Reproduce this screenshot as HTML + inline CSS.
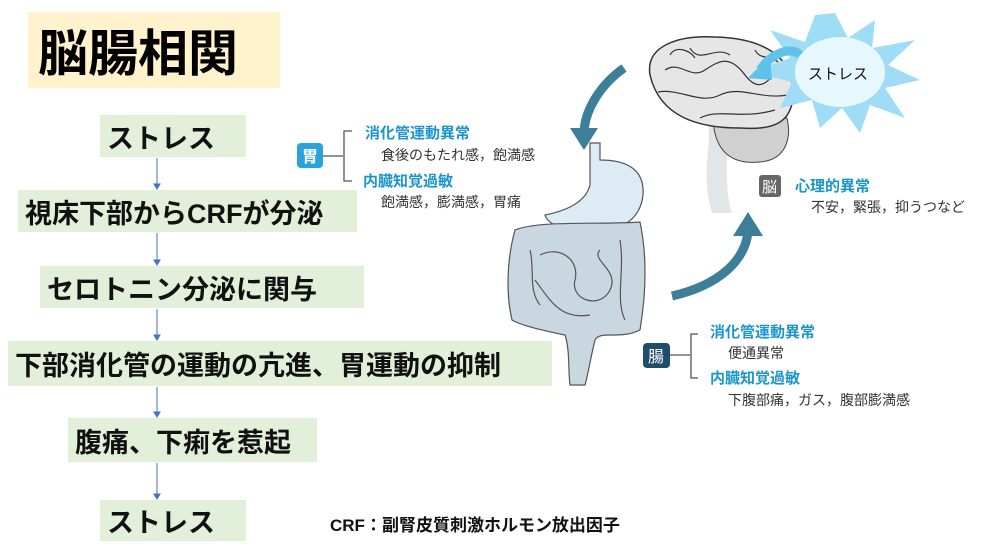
<!DOCTYPE html>
<html><head><meta charset="utf-8"><style>
body{margin:0;width:1000px;height:556px;background:#fff;position:relative;overflow:hidden;font-family:"Liberation Sans","Noto Sans CJK JP",sans-serif}
.b{position:absolute;background:#e2f0d9;font-weight:bold;font-size:27px;color:#111;display:flex;align-items:center;justify-content:flex-start;white-space:nowrap;box-sizing:border-box;padding-left:7px;letter-spacing:0px}
.t{position:absolute;left:28px;top:12px;width:252px;height:76px;background:#fff2cc;font-weight:bold;font-size:50px;display:flex;align-items:center;justify-content:flex-start;padding-left:10px;box-sizing:border-box}
svg{position:absolute;left:0;top:0}
</style></head><body>
<div class="t">脳腸相関</div>
<div class="b" style="left:100px;top:115px;width:146px;height:42px">ストレス</div>
<div class="b" style="left:18px;top:190px;width:339px;height:42px">視床下部からCRFが分泌</div>
<div class="b" style="left:40px;top:266px;width:324px;height:42px">セロトニン分泌に関与</div>
<div class="b" style="left:8px;top:341px;width:544px;height:45px">下部消化管の運動の亢進、胃運動の抑制</div>
<div class="b" style="left:68px;top:418px;width:249px;height:44px">腹痛、下痢を惹起</div>
<div class="b" style="left:100px;top:500px;width:146px;height:41px">ストレス</div>
<svg width="1000" height="556" viewBox="0 0 1000 556" font-family="Liberation Sans,Noto Sans CJK JP,sans-serif">
<g stroke="#4472c4" stroke-width="1" fill="#4472c4">
<line x1="157" y1="158" x2="157" y2="185"/><path d="M154 184 L160 184 L157 189Z"/>
<line x1="157" y1="233" x2="157" y2="261"/><path d="M154 260 L160 260 L157 265Z"/>
<line x1="157" y1="309" x2="157" y2="336"/><path d="M154 335 L160 335 L157 340Z"/>
<line x1="157" y1="387" x2="157" y2="413"/><path d="M154 412 L160 412 L157 417Z"/>
<line x1="157" y1="463" x2="157" y2="495"/><path d="M154 494 L160 494 L157 499Z"/>
</g>
<text x="330" y="531" font-size="17" font-weight="bold" fill="#111">CRF：副腎皮質刺激ホルモン放出因子</text>
<!-- stomach -->
<path d="M590 143 L600 143 L600 160 C620 160 645 165 643 195 C640 225 610 235 585 232 C565 230 548 225 545 215 C560 212 585 205 590 185Z" fill="#dcebf4" stroke="#555" stroke-width="1.2"/>
<!-- intestine -->
<path d="M515 230 C540 220 600 225 640 222 C648 260 645 300 640 330 C620 340 600 330 595 340 C590 360 588 375 585 385 L570 385 C568 370 570 350 565 335 C540 330 520 325 512 320 C505 290 508 255 515 230Z" fill="#c9d7e0" stroke="#555" stroke-width="1.2"/>
<path d="M540 255 C560 245 580 260 575 280 C570 300 600 310 610 290 C620 270 590 260 600 250" fill="none" stroke="#555" stroke-width="1.2"/>
<path d="M535 280 C550 300 560 320 590 315" fill="none" stroke="#555" stroke-width="1.2"/>
<path d="M530 250 C535 270 528 290 540 305 M620 240 C625 270 615 300 625 320" fill="none" stroke="#555" stroke-width="1.2"/>
<!-- brain -->
<path d="M708 125 C712 150 700 170 712 213 L732 213 C722 180 730 150 728 125Z" fill="#e3e6e8"/>
<path d="M713 120 C715 150 730 165 760 162 C785 160 792 140 787 118Z" fill="#d0d0d0" stroke="#444"/>
<path d="M650 75 C645 45 680 35 715 37 C760 38 795 55 793 95 C792 125 770 130 740 128 C700 128 660 118 650 75Z" fill="#e6e6e6" stroke="#333" stroke-width="1.5"/>
<path d="M665 70 C680 60 690 80 705 70 S730 55 745 75 S770 80 780 65 M658 92 C680 88 700 105 720 95 S760 100 788 95 M690 48 C700 65 715 45 730 55 M700 118 C720 108 740 120 775 110 M670 55 C675 45 690 50 695 58 M755 50 C760 60 770 55 778 62" fill="none" stroke="#333" stroke-width="1.2"/>
<!-- star -->
<polygon points="835,13 848,38 875,20 872,48 915,40 888,65 920,80 885,88 905,118 870,105 860,133 842,108 820,128 812,100 780,108 792,82 752,72 790,58 770,30 805,42 815,15" fill="#9fdcf6"/>
<ellipse cx="840" cy="72" rx="45" ry="35" fill="#e6f7fe"/>
<text x="808" y="79" font-size="15" fill="#111">ストレス</text>
<path d="M800 55 C790 45 770 55 760 70" fill="none" stroke="#5ec2ea" stroke-width="9"/>
<path d="M748 78 L770 56 L772 80Z" fill="#5ec2ea"/>
<!-- teal arrows -->
<path d="M624 68 C600 85 585 110 584 132" fill="none" stroke="#3d7f99" stroke-width="9"/>
<path d="M570 128 L598 128 L584 150Z" fill="#3d7f99"/>
<path d="M672 296 C720 285 745 260 748 232" fill="none" stroke="#3d7f99" stroke-width="9"/>
<path d="M733 236 L763 236 L748 212Z" fill="#3d7f99"/>
<!-- gastric labels -->
<rect x="297" y="143" width="26" height="25" rx="4" fill="#29a3dc"/>
<text x="302" y="162" font-size="16" fill="#fff" font-weight="bold">胃</text>
<path d="M323 156 H343 M352 131 H344 V181 H352" fill="none" stroke="#555" stroke-width="1.3"/>
<text x="365" y="138" font-size="15" font-weight="bold" fill="#1a95cf">消化管運動異常</text>
<text x="381" y="160" font-size="14" fill="#333">食後のもたれ感，飽満感</text>
<text x="363" y="186" font-size="15" font-weight="bold" fill="#1a95cf">内臓知覚過敏</text>
<text x="381" y="207" font-size="14" fill="#333">飽満感，膨満感，胃痛</text>
<rect x="643" y="343" width="27" height="25" rx="4" fill="#1f4e6b"/>
<text x="648" y="362" font-size="16" fill="#fff">腸</text>
<path d="M670 355 H690 M698 334 H691 V378 H698" fill="none" stroke="#555" stroke-width="1.3"/>
<text x="710" y="337" font-size="15" font-weight="bold" fill="#1a95cf">消化管運動異常</text>
<text x="728" y="358" font-size="14" fill="#333">便通異常</text>
<text x="710" y="383" font-size="15" font-weight="bold" fill="#1a95cf">内臓知覚過敏</text>
<text x="728" y="405" font-size="14" fill="#333">下腹部痛，ガス，腹部膨満感</text>
<rect x="759" y="175" width="22" height="22" rx="3" fill="#666"/>
<text x="762" y="192" font-size="15" fill="#fff">脳</text>
<text x="795" y="191" font-size="15" font-weight="bold" fill="#1a95cf">心理的異常</text>
<text x="811" y="212" font-size="14" fill="#333">不安，緊張，抑うつなど</text>
</svg>
</body></html>
